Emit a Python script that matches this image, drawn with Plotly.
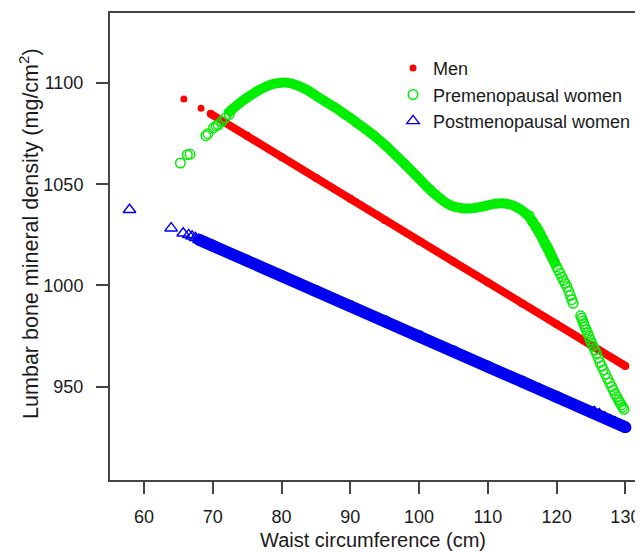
import plotly.graph_objects as go

# ---------------- data ----------------
# Men: isolated points and the dense run of points
men_pts_x = [65.8, 68.3, 69.7]
men_pts_y = [1092.1, 1087.6, 1084.8]
men_band_x = [69.7, 75, 80, 85, 90, 95, 100, 105, 110, 115, 120, 125, 130]
men_band_y = [1084.8, 1074.0, 1063.5, 1053.2, 1042.8, 1032.4, 1022.0, 1011.8, 1001.5, 991.1, 980.8, 970.5, 960.2]

# Premenopausal women: isolated circles and dense band
pre_pts_x = [65.3, 66.3, 66.7, 69.0, 69.3, 70.1, 70.5, 70.8, 71.3, 71.8, 72.4,
             116.0, 116.5, 117.0, 117.3, 117.6, 118.0, 118.3, 118.6, 118.8, 119.1, 119.4, 119.7,
             120.0, 120.25, 120.5, 120.75, 121.0, 121.25, 121.5, 121.75, 122.0, 122.2, 122.4,
             123.5, 123.65, 123.8, 123.95, 124.1, 124.3, 124.5, 124.7, 124.9, 125.1, 125.3,
             125.55, 125.8, 126.05, 126.3, 126.55, 126.8, 127.1, 127.4, 127.7, 128.0,
             128.25, 128.5, 128.75, 129.0, 129.2, 129.4, 129.6, 129.8]
pre_pts_y = [1060.5, 1064.6, 1064.8, 1074.0, 1075.0, 1077.8, 1078.8, 1079.4, 1081.0, 1082.7, 1084.5,
             1034.5, 1031.5, 1029.0, 1027.3, 1025.5, 1023.0, 1020.9, 1019.2, 1018.0, 1015.8, 1013.5, 1011.5,
             1009.3, 1007.6, 1006.0, 1004.2, 1002.5, 1001.0, 999.4, 997.2, 995.0, 993.0, 991.2,
             985.0, 983.8, 982.5, 981.1, 979.7, 978.1, 976.5, 974.8, 973.0, 971.5, 970.0,
             968.2, 966.5, 964.2, 962.0, 960.2, 958.3, 956.2, 954.0, 952.0, 950.0,
             948.2, 946.5, 945.0, 943.4, 942.2, 941.0, 939.9, 938.8]
pre_band_x = [72, 73, 74, 75, 76, 77, 78, 79, 80, 81, 82, 83, 84, 85, 86, 87, 88, 89, 90,
              91, 92, 93, 94, 95, 96, 97, 98, 99, 100, 101, 102, 103, 104, 105, 106, 107,
              108, 109, 110, 111, 112, 113, 114, 115, 116, 117, 118, 119, 120]
pre_band_y = [1084.5, 1087.5, 1090.3, 1092.8, 1095.0, 1097.0, 1098.6, 1099.7, 1100.2, 1100.1,
              1099.2, 1097.8, 1096.0, 1093.8, 1091.6, 1089.5, 1087.5, 1085.0, 1082.8,
              1080.2, 1077.8, 1075.2, 1072.5, 1069.5, 1066.3, 1063.0, 1059.7, 1056.3, 1052.8,
              1049.3, 1046.0, 1043.2, 1040.6, 1039.0, 1038.3, 1038.0, 1038.2, 1038.8, 1039.6,
              1040.3, 1040.6, 1040.2, 1039.0, 1037.0, 1033.8, 1029.0, 1022.8, 1016.0, 1009.3]

# Postmenopausal women: isolated triangles and dense band
post_pts_x = [57.9, 63.95, 65.7, 66.5, 67.0, 67.5, 68.0, 68.6, 69.2, 70.0,
              125.5, 126.2, 127.0, 127.8, 128.5, 129.2, 129.8]
post_pts_y = [1037.4, 1028.3, 1025.8, 1025.0, 1024.3, 1023.5, 1022.6, 1021.8, 1020.9, 1019.8,
              937.5, 936.5, 935.0, 933.5, 932.5, 931.3, 930.3]
post_band_x = [68, 70, 75, 80, 85, 90, 95, 100, 105, 110, 115, 120, 125, 130]
post_band_y = [1022.6, 1019.6, 1012.2, 1004.8, 997.3, 989.8, 982.4, 975.0, 967.5, 960.0, 952.5, 945.0, 937.5, 930.0]

x_ticks = [60, 70, 80, 90, 100, 110, 120, 130]
y_ticks = [950, 1000, 1050, 1100]

RED = "#FF0000"
GREEN = "#00EE00"
BLUE = "#0000F0"
FONT = "Liberation Sans, Arial, sans-serif"

fig = go.Figure()

# dense bands (drawn as thick lines through the read points)
fig.add_trace(go.Scatter(x=post_band_x, y=post_band_y, mode="lines+markers",
                         line=dict(color=BLUE, width=12),
                         marker=dict(color=BLUE, size=12, symbol="circle"),
                         showlegend=False, hoverinfo="skip"))
fig.add_trace(go.Scatter(x=men_band_x, y=men_band_y, mode="lines+markers",
                         line=dict(color=RED, width=8),
                         marker=dict(color=RED, size=8, symbol="circle"),
                         showlegend=False, hoverinfo="skip"))
fig.add_trace(go.Scatter(x=pre_band_x, y=pre_band_y, mode="lines", line_shape="spline",
                         line=dict(color=GREEN, width=10),
                         showlegend=False, hoverinfo="skip"))

# individual markers (with legend)
fig.add_trace(go.Scatter(x=men_pts_x, y=men_pts_y, mode="markers", name="Men",
                         marker=dict(color=RED, size=7, symbol="circle")))
fig.add_trace(go.Scatter(x=pre_pts_x, y=pre_pts_y, mode="markers", name="Premenopausal women",
                         marker=dict(color=GREEN, size=9.5, symbol="circle-open",
                                     line=dict(width=1.5, color=GREEN))))
fig.add_trace(go.Scatter(x=post_pts_x, y=post_pts_y, mode="markers", name="Postmenopausal women",
                         marker=dict(color=BLUE, size=11, symbol="triangle-up-open",
                                     line=dict(width=1.4, color=BLUE))))

# the page body adds an 8px offset, so the figure is sized to fit the window
fig.update_layout(
    width=635, height=544,
    margin=dict(l=102, r=0, t=5, b=72, autoexpand=False),
    paper_bgcolor="white", plot_bgcolor="white",
    font=dict(family=FONT, color="#1a1a1a", size=18),
    showlegend=True,
    legend=dict(x=0.531, y=0.921, xanchor="left", yanchor="top",
                bgcolor="rgba(0,0,0,0)", font=dict(size=18, color="#1a1a1a"),
                itemsizing="trace", tracegroupgap=0),
    xaxis=dict(range=[55.06, 132.56], tickvals=x_ticks, ticktext=[str(v) for v in x_ticks],
               showgrid=False, zeroline=False, showline=True, mirror=True,
               linecolor="#444444", linewidth=2, ticks="outside", ticklen=12,
               tickwidth=1.5, tickcolor="#444444", tickfont=dict(size=18),
               ticklabelstandoff=7, automargin=False),
    yaxis=dict(range=[903.9, 1134.6], tickvals=y_ticks, ticktext=[str(v) for v in y_ticks],
               showgrid=False, zeroline=False, showline=True, mirror=False,
               linecolor="#444444", linewidth=2, ticks="outside", ticklen=12,
               tickwidth=1.5, tickcolor="#444444", tickfont=dict(size=18),
               ticklabelstandoff=9, automargin=False),
    annotations=[
        dict(text="Waist circumference (cm)", xref="paper", yref="paper",
             x=0.494, y=-0.1286, xanchor="center", yanchor="middle", showarrow=False,
             font=dict(size=20, color="#1a1a1a")),
        dict(text="Lumbar bone mineral density (mg/cm<sup>2</sup>)", xref="paper", yref="paper",
             x=-0.152, y=0.527, xanchor="center", yanchor="middle", showarrow=False,
             textangle=-90, font=dict(size=21.5, color="#1a1a1a")),
    ],
)

fig.write_html("out.html")
